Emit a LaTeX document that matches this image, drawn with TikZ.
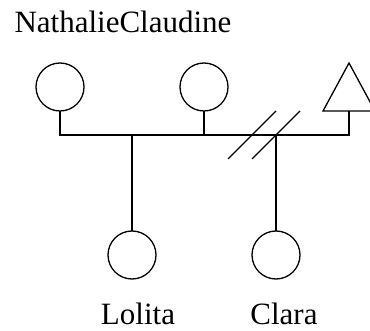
\documentclass[tikz,border=0pt]{standalone}
\usepackage{fontspec}
\setmainfont{Liberation Serif}
\begin{document}
\begin{tikzpicture}[x=1pt,y=1pt,
  line width=1.3pt,
  female/.style={draw,circle,minimum size=48pt,inner sep=0pt,outer sep=0pt},
  lbl/.style={font=\fontsize{31}{36}\selectfont,inner sep=0pt,anchor=base},
  slashline/.style={line width=1.3pt}]
\useasboundingbox (0,0) rectangle (370,-331);
\node[lbl] (tname) at (123,-33) {NathalieClaudine};
\node[female] (nathalie) at (60,-87) {};
\node[female] (claudine) at (204,-87) {};
\coordinate (partner) at (349,-111);
\draw (323,-111) -- (349,-63) -- (375,-111) -- cycle;
\node[female] (lolita) at (132,-255) {};
\node[female] (clara) at (276,-255) {};
\node[lbl] (tlolita) at (138,-325) {Lolita};
\node[lbl] (tclara) at (284,-325) {Clara};
\coordinate (mleft) at (60,-135);
\coordinate (mright) at (349,-135);
\coordinate (s1) at (252,-135);
\coordinate (s2) at (276,-135);
\draw (nathalie.south) -- (mleft) -- (mright) -- (partner);
\draw (claudine.south) -- (claudine.south |- mleft);
\draw (lolita.north) -- (lolita.north |- mleft);
\draw (clara.north) -- (clara.north |- mleft);
\draw[slashline] ([shift={(-24,-24)}]s1) -- ([shift={(24,24)}]s1);
\draw[slashline] ([shift={(-24,-24)}]s2) -- ([shift={(24,24)}]s2);
\end{tikzpicture}
\end{document}
